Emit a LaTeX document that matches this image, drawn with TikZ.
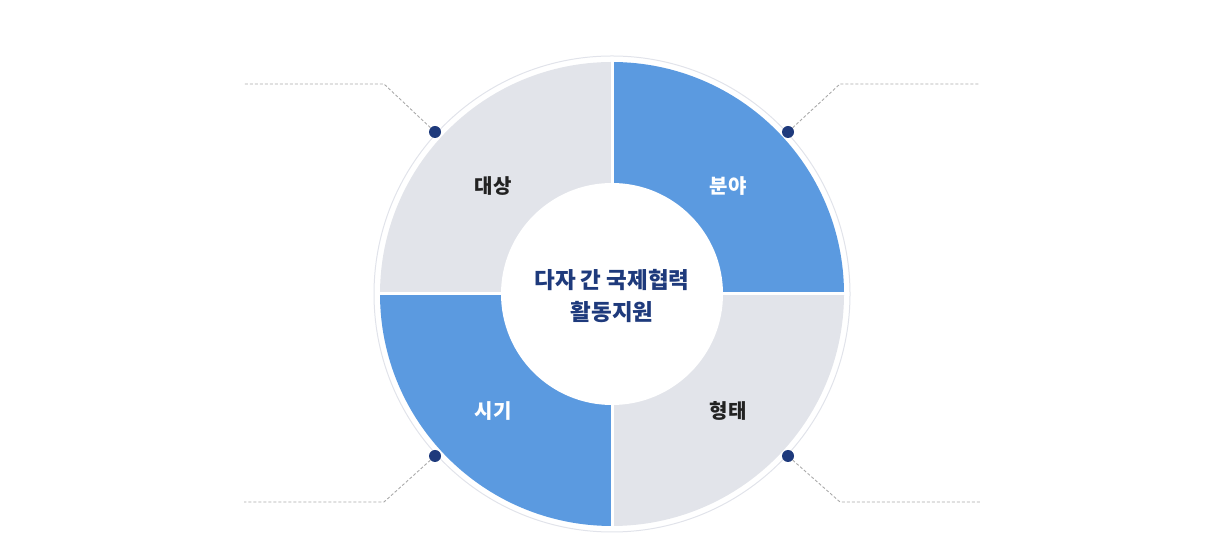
\documentclass[tikz,border=0pt]{standalone}
\usepackage{fontspec}
\setmainfont{Noto Sans CJK KR}
\usetikzlibrary{calc}

\definecolor{sectorblue}{HTML}{5B9AE0}
\definecolor{sectorgray}{HTML}{E2E4EA}
\definecolor{ringgray}{HTML}{E1E3EA}
\definecolor{navy}{HTML}{1E3A7C}
\definecolor{leadgray}{HTML}{AAAAAA}
\definecolor{labeldark}{HTML}{222222}

\tikzset{
  sectorlabel/.style={font=\fontsize{20}{24}\selectfont\bfseries, inner sep=0pt},
  pin dot/.style={circle, fill=navy, minimum size=12pt, inner sep=0pt},
  leader/.style={draw=leadgray, line width=0.9pt, dash pattern=on 3pt off 2pt}
}

\begin{document}
\begin{tikzpicture}[x=1pt,y=1pt]
\useasboundingbox (0,0) rectangle (1225,545);

\coordinate (c) at (612,251);

% outer ring
\draw[ringgray, line width=1pt] (c) circle[radius=238];

% quadrants
\fill[sectorblue] (c) -- ++(0:232) arc[start angle=0, end angle=90, radius=232] -- cycle;
\fill[sectorgray] (c) -- ++(90:232) arc[start angle=90, end angle=180, radius=232] -- cycle;
\fill[sectorblue] (c) -- ++(180:232) arc[start angle=180, end angle=270, radius=232] -- cycle;
\fill[sectorgray] (c) -- ++(270:232) arc[start angle=270, end angle=360, radius=232] -- cycle;

% gaps and hole
\draw[white, line width=3pt] ($(c)+(-233,0)$) -- ($(c)+(233,0)$);
\draw[white, line width=3pt] ($(c)+(0,-233)$) -- ($(c)+(0,233)$);
\fill[white] (c) circle[radius=111];

% center title
\node[font=\fontsize{22.5}{32}\selectfont\bfseries, text=navy, align=center] (title) at (612,249) {다자 간 국제협력\\활동지원};

% sector labels
\node[sectorlabel, text=labeldark] (target) at (493,359) {대상};
\node[sectorlabel, text=white] (field) at (728,359) {분야};
\node[sectorlabel, text=white] (period) at (493,134) {시기};
\node[sectorlabel, text=labeldark] (form) at (728,134) {형태};

% pins
\node[pin dot] (pinTL) at (435,413) {};
\node[pin dot] (pinTR) at (788,413) {};
\node[pin dot] (pinBL) at (435,89) {};
\node[pin dot] (pinBR) at (788,89) {};

% leader lines
\coordinate (kneeTL) at (384,461);
\coordinate (endTL) at (244,461);
\coordinate (kneeTR) at (840,461);
\coordinate (endTR) at (980,461);
\coordinate (kneeBL) at (384,43);
\coordinate (endBL) at (244,43);
\coordinate (kneeBR) at (840,43);
\coordinate (endBR) at (980,43);

\draw[leader] (pinTL) -- (kneeTL) -- (endTL);
\draw[leader] (pinTR) -- (kneeTR) -- (endTR);
\draw[leader] (pinBL) -- (kneeBL) -- (endBL);
\draw[leader] (pinBR) -- (kneeBR) -- (endBR);

\end{tikzpicture}
\end{document}
